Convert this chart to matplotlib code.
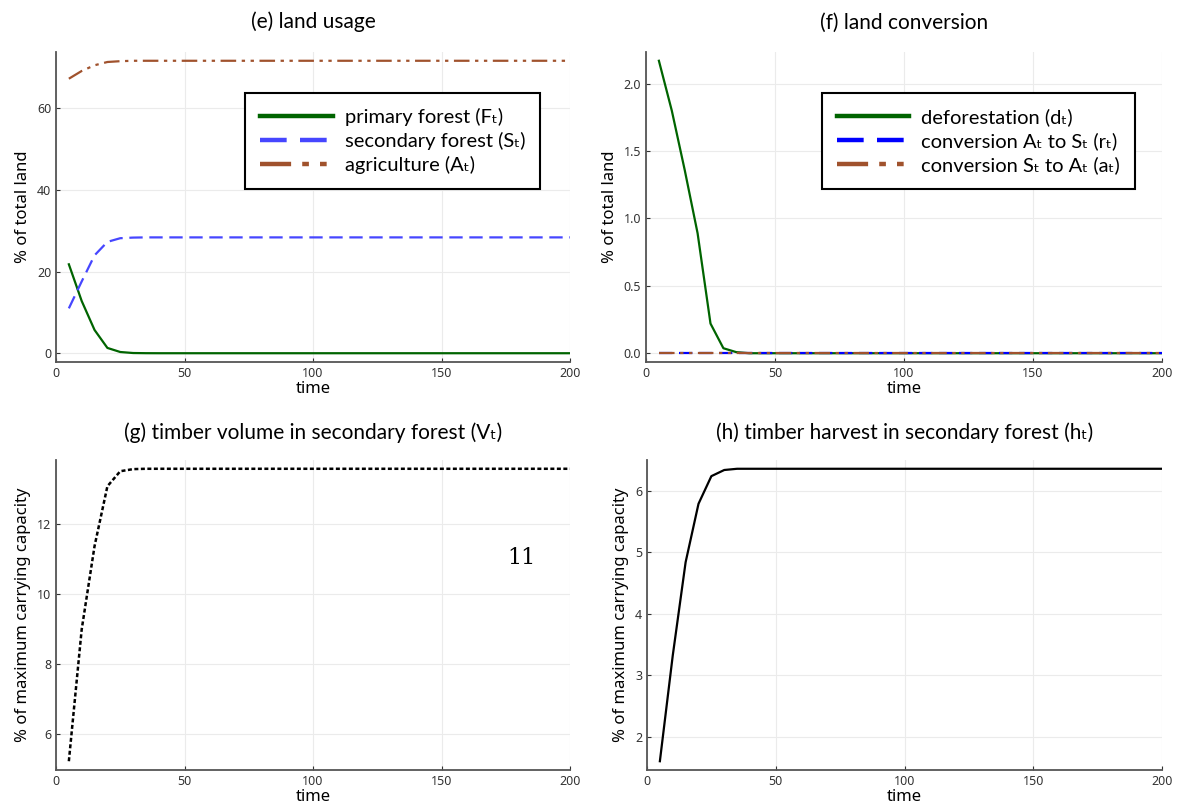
import numpy as np
import matplotlib
matplotlib.use("Agg")
import matplotlib.pyplot as plt

# time grid (every 5 periods up to 200)
time = np.arange(5, 205, 5)
n_tail = len(time) - 7

# (e) land usage, % of total land
primary = [21.8, 12.8, 5.7, 1.3, 0.3, 0.05, 0.01] + [0.0] * n_tail
secondary = [11.0, 17.6, 24.0, 27.3, 28.2, 28.35, 28.4] + [28.4] * n_tail
agri = [67.3, 69.2, 70.6, 71.4, 71.6, 71.7, 71.7] + [71.7] * n_tail

# (f) land conversion, % of total land
defor = [2.17, 1.80, 1.36, 0.89, 0.22, 0.037, 0.008] + [0.0] * n_tail
conv_as = [0.0] * len(time)
conv_sa = [0.0] * len(time)

# (g) timber volume, (h) timber harvest, % of max carrying capacity
volume = [5.23, 9.0, 11.38, 13.09, 13.52, 13.58, 13.59] + [13.59] * n_tail
harvest = [1.60, 3.32, 4.84, 5.79, 6.24, 6.34, 6.36] + [6.36] * n_tail

TFONT = ["Lato", "DejaVu Sans"]
LFONT = ["Noto Sans", "DejaVu Sans"]
GREEN = "#006400"
SIENNA = "#a0522d"
DDOT = (0, (7, 2.5, 1.5, 2.5, 1.5, 2.5))

fig = plt.figure(figsize=(11.96, 8.10), dpi=100)
W, H = 1196, 810


def make_ax(l, r, t, b):
    ax = fig.add_axes([l / W, 1 - b / H, (r - l) / W, (b - t) / H])
    for s in ["top", "right"]:
        ax.spines[s].set_visible(False)
    for s in ["left", "bottom"]:
        ax.spines[s].set_color("#555555")
        ax.spines[s].set_linewidth(1.3)
    ax.grid(True, color="#ebebeb", linewidth=0.8)
    ax.set_axisbelow(True)
    ax.tick_params(direction="in", length=3, labelsize=9, colors="#333333")
    for lab in ax.get_xticklabels() + ax.get_yticklabels():
        lab.set_family(LFONT)
    ax.set_xlim(0, 200)
    ax.set_xticks([0, 50, 100, 150, 200])
    ax.margins(y=0.03)
    ax.set_xlabel("time", family=LFONT, fontsize=12, labelpad=1)
    return ax


def legend(ax, anchor):
    leg = ax.legend(loc="upper right", bbox_to_anchor=anchor, fancybox=False,
                    edgecolor="black", framealpha=1, handlelength=3.6,
                    handletextpad=0.6, labelspacing=0.3, borderpad=0.75,
                    borderaxespad=0, prop={"family": TFONT, "size": 14.5})
    leg.get_frame().set_linewidth(1.5)
    for ln in leg.get_lines():
        ln.set_linewidth(3.2)
    return leg


# (e)
ax = make_ax(56, 570, 52, 362)
ax.plot(time, primary, color=GREEN, lw=1.6, label="primary forest (Fₜ)")
ax.plot(time, secondary, color="#4646ff", lw=1.6, ls=(0, (6, 3)),
        label="secondary forest (Sₜ)")
ax.plot(time, agri, color=SIENNA, lw=1.6, ls=DDOT, label="agriculture (Aₜ)")
ax.set_yticks([0, 20, 40, 60])
ax.set_ylabel("% of total land", family=LFONT, fontsize=12)
ax.set_title("(e) land usage", family=TFONT, fontsize=15, pad=17)
legend(ax, (0.942, 0.868))

# (f)
ax = make_ax(646, 1162, 52, 362)
ax.plot(time, defor, color=GREEN, lw=1.6, label="deforestation (dₜ)")
ax.plot(time, conv_as, color="#0000ff", lw=1.6, ls=(0, (6, 3)),
        label="conversion Aₜ to Sₜ (rₜ)")
ax.plot(time, conv_sa, color=SIENNA, lw=1.6, ls=DDOT,
        label="conversion Sₜ to Aₜ (aₜ)")
ax.set_yticks([0.0, 0.5, 1.0, 1.5, 2.0])
ax.set_ylabel("% of total land", family=LFONT, fontsize=12)
ax.set_title("(f) land conversion", family=TFONT, fontsize=15, pad=17)
legend(ax, (0.948, 0.868))

# (g)
ax = make_ax(56, 570, 460, 770)
ax.plot(time, volume, color="black", lw=1.8, ls=(0, (1.6, 1.0)))
ax.set_yticks([6, 8, 10, 12])
ax.set_ylabel("% of maximum carrying capacity", family=LFONT, fontsize=12)
ax.set_title("(g) timber volume in secondary forest (Vₜ)", family=TFONT,
             fontsize=15, pad=15)
ax.text(0.905, 0.685, "11", transform=ax.transAxes, family="DejaVu Serif",
        fontsize=16, ha="center", va="center")

# (h)
ax = make_ax(647, 1162, 460, 770)
ax.plot(time, harvest, color="black", lw=1.6)
ax.set_yticks([2, 3, 4, 5, 6])
ax.set_ylabel("% of maximum carrying capacity", family=LFONT, fontsize=12)
ax.set_title("(h) timber harvest in secondary forest (hₜ)", family=TFONT,
             fontsize=15, pad=15)

fig.savefig("out.png", dpi=100)
